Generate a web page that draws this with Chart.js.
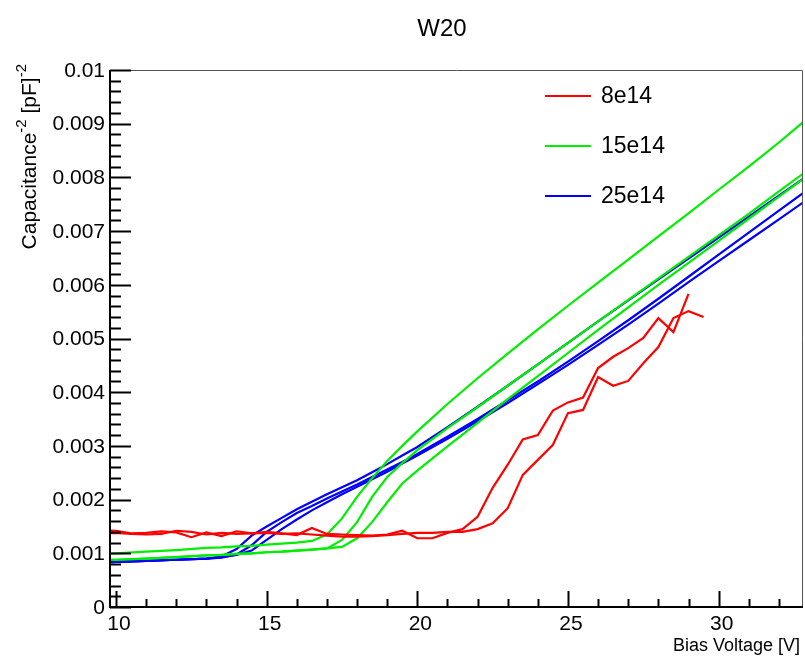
<!DOCTYPE html>
<html>
<head>
<meta charset="utf-8">
<script src="https://cdn.jsdelivr.net/npm/chart.js@4/dist/chart.umd.min.js"></script>
<style>
  html, body { margin: 0; padding: 0; background: #fff; }
  #wrap { width: 805px; height: 659px; }
</style>
</head>
<body>
<div id="wrap"><canvas id="myChart" width="805" height="659"></canvas></div>
<script>
// bias voltage points for the 15e14 / 25e14 sweeps
const volts = [9.5, 10, 11, 12, 13, 13.5, 14, 14.5, 15, 15.5, 16, 16.5, 17, 17.5, 18, 18.5, 19, 19.5, 20, 21, 22, 23, 24, 25, 26, 27, 28, 29, 30, 31, 32, 33]

// 25e14 (blue)
const blue1 = [0.00083, 0.00084, 0.00086, 0.00088, 0.0009, 0.00094, 0.00108, 0.00133, 0.0015, 0.00166, 0.00182, 0.00196, 0.0021, 0.00223, 0.00236, 0.00251, 0.00266, 0.00282, 0.00298, 0.00335, 0.00373, 0.00412, 0.00452, 0.00492, 0.00532, 0.00571, 0.0061, 0.00649, 0.00688, 0.00727, 0.00766, 0.00805]
const blue2 = [0.00083, 0.00084, 0.00086, 0.00088, 0.0009, 0.00092, 0.00098, 0.00115, 0.0014, 0.00158, 0.00175, 0.00188, 0.00202, 0.00215, 0.00228, 0.00242, 0.00256, 0.0027, 0.00285, 0.00317, 0.0035, 0.00385, 0.0042, 0.00457, 0.00495, 0.00534, 0.00574, 0.00615, 0.00656, 0.00697, 0.00738, 0.00779]
const blue3 = [0.00083, 0.00084, 0.00086, 0.00088, 0.0009, 0.00093, 0.00097, 0.00105, 0.00125, 0.00145, 0.00163, 0.0018, 0.00195, 0.0021, 0.00224, 0.00238, 0.00252, 0.00267, 0.00282, 0.00313, 0.00346, 0.0038, 0.00415, 0.00451, 0.00488, 0.00526, 0.00565, 0.00605, 0.00644, 0.00683, 0.00722, 0.00761]

// 15e14 (green)
const green1 = [0.00099, 0.001, 0.00103, 0.00106, 0.0011, 0.00111, 0.00113, 0.00114, 0.00116, 0.00118, 0.0012, 0.00123, 0.00135, 0.00165, 0.00205, 0.0024, 0.00272, 0.003, 0.00327, 0.00378, 0.00426, 0.00472, 0.00517, 0.00561, 0.00604, 0.00647, 0.0069, 0.00733, 0.00777, 0.0082, 0.00865, 0.00912]
const green2 = [0.00087, 0.00088, 0.0009, 0.00093, 0.00096, 0.00097, 0.00099, 0.001, 0.00102, 0.00103, 0.00105, 0.00107, 0.00109, 0.00125, 0.00158, 0.00205, 0.00242, 0.00268, 0.00292, 0.00333, 0.00372, 0.00412, 0.00452, 0.00492, 0.00532, 0.00572, 0.00612, 0.00652, 0.00692, 0.00732, 0.00774, 0.00815]
const green3 = [0.00087, 0.00088, 0.0009, 0.00093, 0.00096, 0.00097, 0.00099, 0.001, 0.00102, 0.00103, 0.00105, 0.00107, 0.00109, 0.00112, 0.00128, 0.00158, 0.00195, 0.0023, 0.00254, 0.00299, 0.00343, 0.00387, 0.0043, 0.00473, 0.00516, 0.00558, 0.006, 0.00641, 0.00682, 0.00723, 0.00764, 0.00805]

// 8e14 (red), own voltage steps
const redVolts = [9.5, 10, 10.5, 11, 11.5, 12, 12.5, 13, 13.5, 14, 14.5, 15, 15.5, 16, 16.5, 17, 17.5, 18, 18.5, 19, 19.5, 20, 20.5, 21, 21.5, 22, 22.5, 23, 23.5, 24, 24.5, 25, 25.5, 26, 26.5, 27, 27.5, 28, 28.5, 29, 29.5]
const red1 = [0.00143, 0.00142, 0.00137, 0.00138, 0.00141, 0.00139, 0.0013, 0.00139, 0.00132, 0.00141, 0.00137, 0.0014, 0.00137, 0.00134, 0.00147, 0.00136, 0.00135, 0.00134, 0.00133, 0.00135, 0.00142, 0.00128, 0.00128, 0.00138, 0.00145, 0.00168, 0.00222, 0.00265, 0.00312, 0.0032, 0.00366, 0.00381, 0.0039, 0.00445, 0.00466, 0.00482, 0.00501, 0.00538, 0.00512, 0.00583, null]
const red2 = [0.00137, 0.00138, 0.00136, 0.00135, 0.00136, 0.00142, 0.0014, 0.00135, 0.00138, 0.00136, 0.00137, 0.00138, 0.00136, 0.00137, 0.00135, 0.00133, 0.00131, 0.00131, 0.00132, 0.00134, 0.00136, 0.00138, 0.00138, 0.0014, 0.0014, 0.00145, 0.00156, 0.00184, 0.00246, 0.00274, 0.00302, 0.00361, 0.00367, 0.00428, 0.00412, 0.00421, 0.00454, 0.00484, 0.00538, 0.00551, 0.0054]

const xTicks = [10, 15, 20, 25, 30]
const yTicks = [0, 0.001, 0.002, 0.003, 0.004, 0.005, 0.006, 0.007, 0.008, 0.009, 0.01]
const yTickText = ['0', '0.001', '0.002', '0.003', '0.004', '0.005', '0.006', '0.007', '0.008', '0.009', '0.01']

const legendNames = ['8e14', '15e14', '25e14']
const RED = '#ff0000', GREEN = '#00ee00', BLUE = '#0000ff'
const legendColors = [RED, GREEN, BLUE]

const FONT = '"Liberation Sans", Arial, Helvetica, sans-serif'

function pts(xs, ys) {
    let out = []
    for (let i = 0; i < xs.length; i++) {
        if (ys[i] !== null) out.push({ x: xs[i], y: ys[i] })
    }
    return out
}

function curve(xs, ys, color) {
    return {
        data: pts(xs, ys),
        borderColor: color,
        borderWidth: 2.2,
        pointRadius: 0,
        fill: false,
        tension: 0
    }
}

// ROOT-like frame, ticks inside, labels, titles and legend
const rootFrame = {
    id: 'rootFrame',
    afterDraw(chart) {
        const ctx = chart.ctx
        const xs = chart.scales.x, ys = chart.scales.y
        const a = chart.chartArea
        ctx.save()

        // thin top / right frame
        ctx.strokeStyle = '#555'
        ctx.lineWidth = 1
        ctx.beginPath()
        ctx.moveTo(a.left, a.top + 0.5)
        ctx.lineTo(a.right - 0.5, a.top + 0.5)
        ctx.lineTo(a.right - 0.5, a.bottom)
        ctx.stroke()

        // axes
        ctx.strokeStyle = '#000'
        ctx.lineWidth = 2
        ctx.beginPath()
        ctx.moveTo(a.left, a.top)
        ctx.lineTo(a.left, a.bottom)
        ctx.lineTo(a.right, a.bottom)
        ctx.stroke()

        // x ticks (major every 5, minor every 1)
        ctx.beginPath()
        for (let v = 10; v <= xs.max; v += 1) {
            const px = Math.round(xs.getPixelForValue(v)) + 0.5
            const len = (v % 5 === 0) ? 16 : 8
            ctx.moveTo(px, a.bottom)
            ctx.lineTo(px, a.bottom - len)
        }
        ctx.stroke()

        // y ticks (major every 0.001, minor every 0.0002)
        ctx.beginPath()
        for (let k = 0; k <= 50; k++) {
            const py = Math.round(ys.getPixelForValue(k * 0.0002)) + 0.5
            const len = (k % 5 === 0) ? 21 : 11
            ctx.moveTo(a.left, py)
            ctx.lineTo(a.left + len, py)
        }
        ctx.stroke()

        // tick labels
        ctx.fillStyle = '#000'
        ctx.font = '21px ' + FONT
        ctx.textAlign = 'center'
        ctx.textBaseline = 'top'
        xTicks.forEach(v => {
            ctx.fillText(String(v), xs.getPixelForValue(v) + 3, a.bottom + 7)
        })
        ctx.textAlign = 'right'
        ctx.textBaseline = 'middle'
        yTicks.forEach((v, i) => {
            ctx.fillText(yTickText[i], a.left - 5, ys.getPixelForValue(v) + 1)
        })

        // x title
        ctx.font = '18px ' + FONT
        ctx.textAlign = 'right'
        ctx.textBaseline = 'alphabetic'
        ctx.fillText('Bias Voltage [V]', 800, 651)

        // y title, rotated, with superscripts
        ctx.save()
        ctx.translate(36, 64)
        ctx.rotate(-Math.PI / 2)
        const parts = [['Capacitance', false], ['-2', true], [' [pF]', false], ['-2', true]]
        const big = '21px ' + FONT, small = '15px ' + FONT
        let w = 0
        parts.forEach(p => { ctx.font = p[1] ? small : big; w += ctx.measureText(p[0]).width })
        let cx = -w
        ctx.textAlign = 'left'
        parts.forEach(p => {
            ctx.font = p[1] ? small : big
            ctx.fillText(p[0], cx, p[1] ? -10 : 0)
            cx += ctx.measureText(p[0]).width
        })
        ctx.restore()

        // title
        ctx.font = '24px ' + FONT
        ctx.textAlign = 'center'
        ctx.textBaseline = 'middle'
        ctx.fillText('W20', 442, 29)

        // legend
        ctx.font = '23px ' + FONT
        ctx.textAlign = 'left'
        ctx.lineWidth = 2
        legendNames.forEach((name, i) => {
            const ly = 96 + i * 50
            ctx.strokeStyle = legendColors[i]
            ctx.beginPath()
            ctx.moveTo(545, ly)
            ctx.lineTo(591, ly)
            ctx.stroke()
            ctx.fillStyle = '#000'
            ctx.fillText(name, 601, ly + 1)
        })

        ctx.restore()
    }
}

const ctx = document.getElementById('myChart')
const myChart = new Chart(ctx, {
    type: 'line',
    data: {
        datasets: [
            curve(redVolts, red1, RED),
            curve(redVolts, red2, RED),
            curve(volts, green1, GREEN),
            curve(volts, green2, GREEN),
            curve(volts, green3, GREEN),
            curve(volts, blue1, BLUE),
            curve(volts, blue2, BLUE),
            curve(volts, blue3, BLUE)
        ]
    },
    options: {
        responsive: false,
        animation: false,
        layout: { padding: { left: 110, right: 2, top: 70, bottom: 52 } },
        plugins: { legend: { display: false }, tooltip: { enabled: false } },
        scales: {
            x: { type: 'linear', min: 9.8, max: 32.8, display: false },
            y: { type: 'linear', min: 0, max: 0.01, display: false }
        }
    },
    plugins: [rootFrame]
})
</script>
</body>
</html>
